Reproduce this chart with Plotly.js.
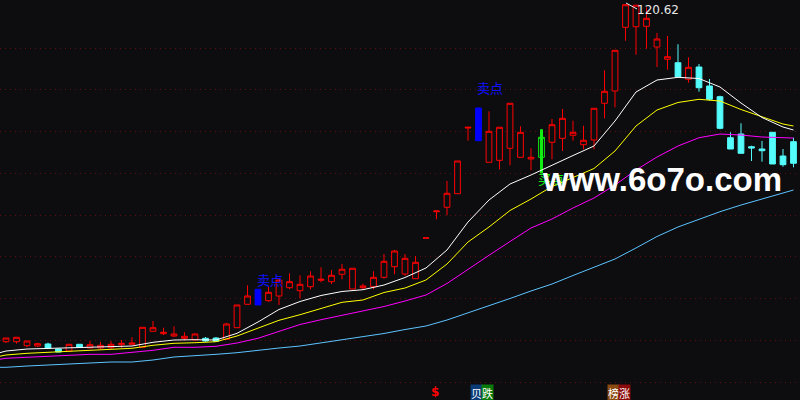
<!DOCTYPE html>
<html>
<head>
<meta charset="utf-8">
<script src="https://cdn.plot.ly/plotly-3.0.1.min.js"></script>
<style>
  html, body { margin: 0; padding: 0; background: #0d0d10; }
  #myPlot { width: 800px; height: 400px; }
</style>
</head>
<body>
<div id="myPlot"></div>
<script>
// daily candles
let open = [39.91, 39.91, 38.95, 38.88, 39.36, 38.16, 37.68, 39.28, 38.40, 38.40,
  38.47, 39.19, 39.28, 38.56, 42.40, 41.82, 41.27, 40.72, 40.31, 40.72,
  40.79, 40.48, 43.26, 48.86, 52.46, 49.73, 50.85, 52.84, 52.12, 53.08,
  54.61, 54.28, 56.05, 52.53, 52.84, 53.08, 55.33, 57.87, 56.12, 55.00,
  64.72, 71.04, 72.10, 75.36, 91.09, 95.88, 82.88, 83.35, 86.23, 84.07,
  83.67, 84.07, 87.67, 88.62, 89.34, 87.09, 88.22, 97.01, 99.95, 115.21,
  115.35, 115.45, 110.49, 107.55, 106.73, 102.76, 105.70, 101.15, 98.59, 88.77,
  89.65, 86.61, 86.06, 90.06, 84.38, 87.81];
let high = [40.79, 40.96, 40.07, 39.67, 39.67, 38.32, 39.28, 39.28, 40.07, 39.83,
  40.07, 40.31, 40.96, 43.35, 44.86, 43.26, 43.59, 42.16, 41.92, 41.03,
  41.03, 44.31, 48.70, 53.41, 52.46, 53.01, 54.68, 56.29, 55.81, 56.77,
  57.73, 57.08, 58.52, 57.49, 53.80, 56.77, 60.91, 61.87, 60.91, 60.43,
  64.76, 71.21, 78.40, 83.19, 91.26, 95.88, 95.09, 91.26, 97.01, 91.50,
  86.23, 90.78, 93.25, 95.64, 92.84, 91.64, 95.81, 104.91, 109.70, 120.62,
  120.50, 120.00, 113.85, 113.13, 111.14, 108.03, 106.42, 102.83, 98.83, 90.06,
  92.22, 86.85, 87.98, 90.06, 86.06, 88.77];
let low = [39.59, 39.43, 38.64, 38.64, 38.32, 37.37, 37.68, 38.64, 38.40, 38.09,
  38.09, 38.47, 39.12, 38.56, 42.40, 41.51, 41.03, 40.24, 40.31, 39.91,
  40.00, 40.48, 43.26, 48.86, 48.70, 49.49, 48.70, 52.53, 50.30, 52.46,
  54.13, 53.73, 54.85, 52.53, 52.36, 52.46, 55.00, 56.05, 55.71, 55.00,
  64.72, 69.22, 70.18, 75.36, 88.05, 88.05, 82.88, 81.20, 82.16, 84.07,
  80.96, 80.24, 83.59, 85.58, 88.05, 85.99, 85.99, 93.41, 96.05, 112.00,
  108.65, 110.09, 105.70, 105.06, 103.38, 101.94, 99.79, 97.63, 90.78, 86.06,
  85.03, 83.19, 83.02, 82.47, 81.82, 81.68];
let close = [40.79, 40.96, 40.07, 39.43, 38.32, 37.44, 39.28, 38.64, 39.19, 39.04,
  39.28, 39.52, 39.59, 43.35, 43.26, 42.16, 41.75, 41.20, 41.75, 40.07,
  40.00, 44.15, 48.70, 50.85, 48.70, 51.74, 54.68, 54.28, 53.65, 55.64,
  54.85, 55.81, 57.25, 57.49, 53.25, 55.33, 59.16, 61.63, 59.88, 58.92,
  64.76, 71.21, 75.45, 83.19, 91.26, 88.05, 90.30, 91.26, 97.01, 90.06,
  84.07, 88.86, 91.88, 93.41, 90.06, 88.15, 95.81, 99.88, 109.70, 120.62,
  120.50, 117.37, 112.41, 108.17, 103.38, 105.63, 100.74, 97.97, 91.02, 86.06,
  85.03, 86.30, 85.65, 82.47, 82.30, 82.64];

// candles the software paints in a signal colour
let sellDays = [24, 45];
let buyDays = [51];

// moving averages, sampled every second day
let maX = [-0.6, 0, 2, 4, 6, 8, 10, 12, 14, 16, 18, 20, 22, 24, 26, 28, 30, 32, 34, 36,
  38, 40, 42, 44, 46, 48, 50, 52, 54, 56, 58, 60, 62, 64, 66, 68, 70, 72, 74, 75];
let ma5 = [37.27, 37.67, 38.15, 38.32, 38.32, 38.56, 38.70, 38.87, 39.76, 40.31,
  40.38, 40.31, 41.91, 44.62, 47.62, 49.53, 50.97, 51.93, 52.36, 53.48,
  55.28, 57.56, 61.87, 68.57, 73.84, 77.67, 79.83, 82.23, 84.50, 86.78,
  92.76, 99.71, 102.58, 103.23, 102.94, 100.91, 97.08, 93.60, 91.33, 90.61];
let ma10 = [36.41, 36.72, 37.12, 37.36, 37.67, 37.91, 38.15, 38.32, 39.04, 39.52,
  39.66, 39.90, 41.27, 43.06, 45.03, 46.37, 47.81, 49.34, 49.89, 51.69,
  52.76, 54.68, 58.51, 63.78, 67.38, 71.33, 74.08, 77.08, 79.23, 81.39,
  85.58, 91.57, 95.40, 97.20, 97.96, 97.55, 95.52, 93.72, 92.05, 91.57];
let ma20 = [35.69, 35.93, 36.17, 36.41, 36.65, 36.88, 36.88, 37.36, 37.84, 38.56,
  38.56, 38.80, 39.59, 40.72, 42.46, 44.02, 45.17, 46.18, 47.25, 48.33,
  49.65, 51.09, 53.84, 57.31, 60.60, 63.90, 67.13, 69.29, 71.93, 74.32,
  77.43, 81.03, 84.14, 86.78, 88.76, 89.65, 89.41, 88.93, 88.74, 88.69];
let ma60 = [33.77, 33.77, 34.08, 34.32, 34.56, 34.80, 35.04, 35.04, 35.52, 36.24,
  36.48, 36.88, 37.27, 37.91, 38.39, 38.87, 39.59, 40.31, 41.03, 41.87,
  42.82, 43.66, 45.10, 46.78, 48.45, 50.25, 52.05, 53.72, 55.76, 57.79,
  59.71, 62.35, 65.10, 67.38, 69.29, 71.04, 72.64, 74.08, 75.40, 76.24];

let gridLevels = [30.25, 40.25, 50.25, 60.25, 70.25, 80.25, 90.25, 100.25, 110.25];
let maxLabel = "120.62";

let bg = "#0d0d10";
let cjk = "Noto Sans CJK SC";

function pick(arr, list) { return list.map(i => arr[i]); }
let days = open.map((v, i) => i);
let special = sellDays.concat(buyDays);
let normal = days.filter(i => special.indexOf(i) < 0);

function candles(list, upLine, upFill, downLine, downFill) {
  return {
    type: "candlestick",
    x: list, open: pick(open, list), high: pick(high, list),
    low: pick(low, list), close: pick(close, list),
    whiskerwidth: 0,
    increasing: { line: { color: upLine, width: 1 }, fillcolor: upFill },
    decreasing: { line: { color: downLine, width: 1 }, fillcolor: downFill },
    hoverinfo: "skip"
  };
}

let data = [
  // thick wick of the buy-signal candle
  { type: "scatter", mode: "lines", x: [buyDays[0], buyDays[0]],
    y: [low[buyDays[0]], high[buyDays[0]]],
    line: { color: "#11ee11", width: 3 }, hoverinfo: "skip" },
  candles(normal, "#ff0000", bg, "#54fcfc", "#54fcfc"),
  candles(sellDays, "#0000ff", "#0000ff", "#0000ff", "#0000ff"),
  candles(buyDays, "#11ee11", bg, "#11ee11", bg),
  { type: "scatter", mode: "lines", x: maX, y: ma60, line: { color: "#5cc4ff", width: 1 }, hoverinfo: "skip" },
  { type: "scatter", mode: "lines", x: maX, y: ma20, line: { color: "#ff00ff", width: 1 }, hoverinfo: "skip" },
  { type: "scatter", mode: "lines", x: maX, y: ma10, line: { color: "#ffff00", width: 1 }, hoverinfo: "skip" },
  { type: "scatter", mode: "lines", x: maX, y: ma5, line: { color: "#ffffff", width: 1 }, hoverinfo: "skip" }
];

function px(x, y, text, opts) {
  return Object.assign({
    xref: "paper", yref: "paper", x: x / 800, y: 1 - y / 400,
    xanchor: "center", yanchor: "middle", text: text, showarrow: false
  }, opts);
}

let layout = {
  width: 800,
  height: 400,
  margin: { l: 0, r: 0, t: 0, b: 0 },
  paper_bgcolor: bg,
  plot_bgcolor: bg,
  showlegend: false,
  boxgap: 0.22,
  xaxis: {
    range: [-0.571, 75.62], showgrid: false, zeroline: false,
    showticklabels: false, ticks: "", showline: false,
    rangeslider: { visible: false }
  },
  yaxis: {
    range: [25.94, 121.75], tickvals: gridLevels, showticklabels: false,
    ticks: "", zeroline: false, showline: false,
    gridcolor: "#5a1010", gridwidth: 1, griddash: "1px,4px"
  },
  shapes: [
    { type: "line", xref: "paper", yref: "paper",
      x0: 626 / 800, y0: 1 - 3 / 400, x1: 637 / 800, y1: 1 - 9 / 400,
      line: { color: "#e8e8e8", width: 1 } }
  ],
  annotations: [
    px(658, 10, maxLabel, { font: { family: "DejaVu Sans", size: 12, color: "#e8e8e8" } }),
    px(270, 279, "卖点", { font: { family: cjk, size: 13, color: "#1010ff" } }),
    px(490, 88, "卖点", { font: { family: cjk, size: 13, color: "#1010ff" } }),
    px(551, 178, "买点", { font: { family: cjk, size: 13, color: "#11ee11" } }),
    px(662, 179, "www.6o7o.com", { font: { family: "Liberation Sans", size: 33, color: "#ffffff", weight: "bold" } }),
    px(435, 392, "$", { font: { family: "DejaVu Sans", size: 12, color: "#ff0000", weight: "bold" } }),
    px(476.5, 392.5, "贝", { font: { family: cjk, size: 11, color: "#ffffff" }, bgcolor: "#0c3c78", borderpad: 0 }),
    px(487.5, 392.5, "跌", { font: { family: cjk, size: 11, color: "#ffffff" }, bgcolor: "#0a7a0a", borderpad: 0 }),
    px(613, 392.5, "榜", { font: { family: cjk, size: 11, color: "#ffffff" }, bgcolor: "#8a4a10", borderpad: 0 }),
    px(624.5, 392.5, "涨", { font: { family: cjk, size: 11, color: "#ffffff" }, bgcolor: "#8a0a0a", borderpad: 0 })
  ]
};

Plotly.newPlot("myPlot", data, layout, { displayModeBar: false, staticPlot: true });
</script>
</body>
</html>
